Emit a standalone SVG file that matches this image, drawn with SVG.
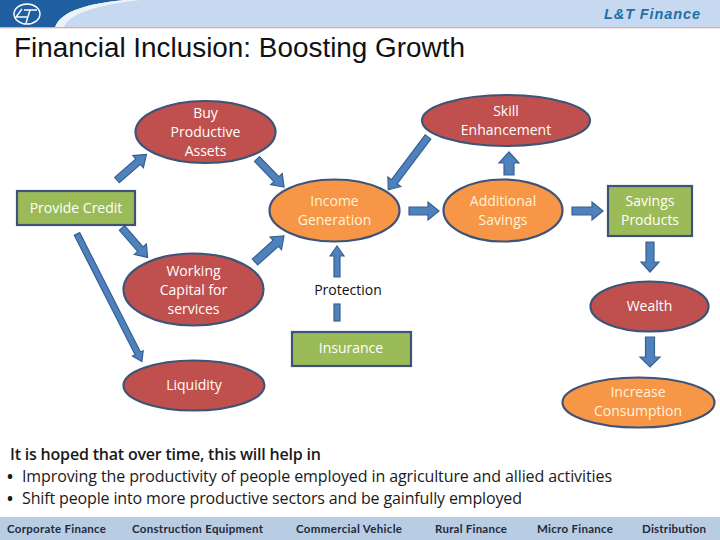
<svg xmlns="http://www.w3.org/2000/svg" width="720" height="540" viewBox="0 0 720 540">
<style>
text{font-family:"Open Sans","Liberation Sans",sans-serif}
.n{stroke:#3d5478;stroke-width:2.2}
.red{fill:#c0504d}.or{fill:#f79646}.gr{fill:#9bbb59}
.l{font-size:14px;fill:#fff;text-anchor:middle}
.lo{font-size:14px;fill:#fff3dc;text-anchor:middle}
.a{fill:#4f81bd;stroke:#376092;stroke-width:1.2}
.b{font-size:16px;fill:#1a1a1a}
.f{font-family:"Lato","Liberation Sans",sans-serif;font-size:11.5px;font-weight:bold;fill:#1f2a3a}
</style>
<rect width="720" height="540" fill="#fff"/>
<g id="header">
<rect width="720" height="27" fill="#c6d9f1"/>
<path d="M0 0H124C88 4 62 10 55 27H0Z" fill="#1f5fa0"/>
<path d="M124 0C88 4 62 10 55 27H64C70 13 98 5 140 0Z" fill="#eef3fa"/>
<rect y="27" width="720" height="1.3" fill="#e0a8a0"/>
<ellipse cx="27" cy="14" rx="13" ry="10" fill="none" stroke="#fff" stroke-width="1.4"/>
<path d="M22 9L16 17H27M24 10H37M30 10L26 23" fill="none" stroke="#fff" stroke-width="1.4"/>
<text x="604" y="19" textLength="96" style="font-family:'Liberation Sans',sans-serif;font-size:14.5px;font-weight:bold;font-style:italic;fill:#1f6fa8">L&amp;T Finance</text>
</g>
<text id="title" x="14" y="57" style="font-family:'Liberation Sans',sans-serif;font-size:27px;fill:#111" textLength="451" lengthAdjust="spacingAndGlyphs">Financial Inclusion: Boosting Growth</text>
<g id="connectors">
<polygon class="a" transform="translate(117 180) rotate(-41)" points="0,-3.5 28,-3.5 28,-8 39,0 28,8 28,3.5 0,3.5"/>
<polygon class="a" transform="translate(257 159) rotate(46)" points="0,-3.5 28,-3.5 28,-8 39,0 28,8 28,3.5 0,3.5"/>
<polygon class="a" transform="translate(122 228) rotate(49)" points="0,-3.5 28,-3.5 28,-8 39,0 28,8 28,3.5 0,3.5"/>
<polygon class="a" transform="translate(255 262) rotate(-42)" points="0,-4 28,-4 28,-8.5 39,0 28,8.5 28,4 0,4"/>
<polygon class="a" transform="translate(77 234) rotate(63)" points="0,-3 134,-3 134,-6 143,0 134,6 134,3 0,3"/>
<polygon class="a" transform="translate(428 137) rotate(127)" points="0,-3.5 56,-3.5 56,-8 66,0 56,8 56,3.5 0,3.5"/>
<polygon class="a" points="504,175 514,175 514,163 519,163 509,152 499,163 504,163"/>
<polygon class="a" points="409,207 428,207 428,202 439,211 428,220 428,215 409,215"/>
<polygon class="a" points="572,207 592,207 592,202 603,211 592,220 592,215 572,215"/>
<polygon class="a" points="646,242 654,242 654,262 659,262 650,272 641,262 646,262"/>
<polygon class="a" points="645.5,337 654.5,337 654.5,357 660,357 650,367 640,357 645.5,357"/>
<polygon class="a" points="334,277 340,277 340,256 344,256 337,246 330,256 334,256"/>
<rect class="a" x="334" y="304" width="6" height="17"/>
</g>
<g id="buy"><ellipse class="n red" cx="205.5" cy="132" rx="70" ry="31"/><text class="l" x="205.5" y="118">Buy</text><text class="l" x="205.5" y="137">Productive</text><text class="l" x="205.5" y="156">Assets</text></g>
<g id="skill"><ellipse class="n red" cx="506" cy="120.5" rx="84" ry="25.5"/><text class="l" x="506" y="116">Skill</text><text class="l" x="506" y="135">Enhancement</text></g>
<g id="credit"><rect class="n gr" x="17" y="191" width="118" height="34"/><text class="l" x="76" y="213">Provide Credit</text></g>
<g id="income"><ellipse class="n or" cx="334.5" cy="210.5" rx="65" ry="31"/><text class="lo" x="334.5" y="206">Income</text><text class="lo" x="334.5" y="225">Generation</text></g>
<g id="additional"><ellipse class="n or" cx="503" cy="210.5" rx="59.5" ry="31"/><text class="lo" x="503" y="206">Additional</text><text class="lo" x="503" y="225">Savings</text></g>
<g id="savings"><rect class="n gr" x="608" y="186" width="84" height="50"/><text class="l" x="650" y="206">Savings</text><text class="l" x="650" y="225">Products</text></g>
<g id="working"><ellipse class="n red" cx="193.5" cy="289.5" rx="70" ry="36"/><text class="l" x="193.5" y="276">Working</text><text class="l" x="193.5" y="295">Capital for</text><text class="l" x="193.5" y="314">services</text></g>
<text id="protection" x="348" y="295" text-anchor="middle" style="font-size:14px;fill:#111">Protection</text>
<g id="wealth"><ellipse class="n red" cx="649.5" cy="306.5" rx="59" ry="25"/><text class="l" x="649.5" y="311">Wealth</text></g>
<g id="insurance"><rect class="n gr" x="292" y="332" width="119" height="34"/><text class="l" x="351" y="353">Insurance</text></g>
<g id="liquidity"><ellipse class="n red" cx="194" cy="385.5" rx="70.5" ry="25"/><text class="l" x="194" y="390">Liquidity</text></g>
<g id="increase"><ellipse class="n or" cx="638.5" cy="402.5" rx="76" ry="25"/><text class="lo" x="638" y="397">Increase</text><text class="lo" x="638" y="416">Consumption</text></g>
<g id="notes">
<text class="b" x="10" y="460" font-weight="600" textLength="311">It is hoped that over time, this will help in</text>
<text class="b" x="7" y="482" font-weight="bold">•</text><text class="b" x="22" y="482" textLength="590">Improving the productivity of people employed in agriculture and allied activities</text>
<text class="b" x="7" y="504" font-weight="bold">•</text><text class="b" x="22" y="504" textLength="500">Shift people into more productive sectors and be gainfully employed</text>
</g>
<g id="footer">
<rect y="517" width="720" height="23" fill="#b8cce4"/>
<text class="f" x="7" y="533" textLength="99">Corporate Finance</text>
<text class="f" x="132" y="533" textLength="131">Construction Equipment</text>
<text class="f" x="296" y="533" textLength="106">Commercial Vehicle</text>
<text class="f" x="435" y="533" textLength="72">Rural Finance</text>
<text class="f" x="537" y="533" textLength="76">Micro Finance</text>
<text class="f" x="642" y="533" textLength="64">Distribution</text>
</g>
</svg>
